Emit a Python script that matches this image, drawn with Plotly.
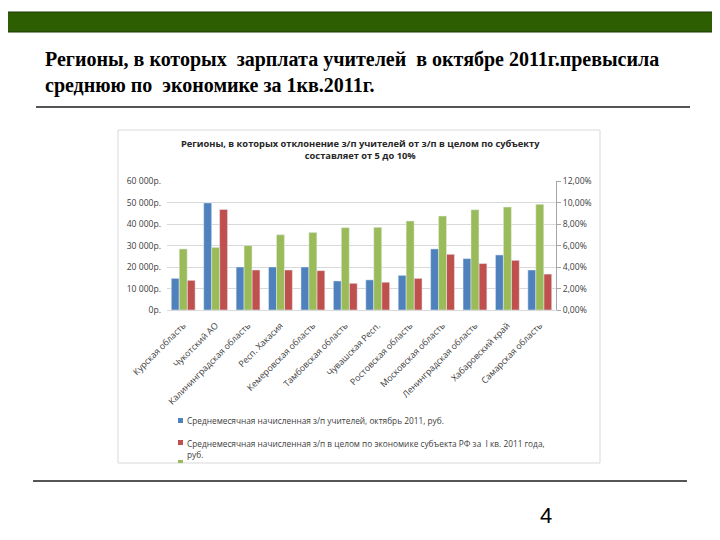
import plotly.graph_objects as go

regions = ["Курская область", "Чукотский АО", "Калининградская область", "Респ. Хакасия",
           "Кемеровская область", "Тамбовская область", "Чувашская Респ.", "Ростовская область",
           "Московская область", "Ленинградская область", "Хабаровский край", "Самарская область"]
teacher_salary = [14700, 49800, 20000, 20000, 20000, 13500, 14000, 16100, 28400, 23900, 25600, 18600]
economy_salary = [13800, 46800, 18600, 18600, 18300, 12400, 12900, 14700, 25900, 21600, 23100, 16700]
deviation = [0.0568, 0.0583, 0.0600, 0.0700, 0.0722, 0.0766, 0.0769, 0.0828, 0.0874, 0.0933, 0.0958, 0.0983]

name_teacher = "Среднемесячная начисленная з/п учителей, октябрь 2011, руб."
name_economy = "Среднемесячная начисленная з/п в целом по экономике субъекта РФ за  I кв. 2011 года, руб."
name_dev = "Отклонение з/п учителей от з/п в целом по субъекту, %"

left_ticks = [0, 10000, 20000, 30000, 40000, 50000, 60000]
left_ticktext = ["0р.", "10 000р.", "20 000р.", "30 000р.", "40 000р.", "50 000р.", "60 000р."]
right_ticks = [0, 0.02, 0.04, 0.06, 0.08, 0.10, 0.12]
right_ticktext = ["0,00%", "2,00%", "4,00%", "6,00%", "8,00%", "10,00%", "12,00%"]

BLUE, RED, GREEN = "#4F81BD", "#C0504D", "#9BBB59"
W, H = 720, 540
OFF = 8  # page body margin compensation

def px(x):
    return (x - OFF) / W

def py(y):
    return 1 - (y - OFF) / H

fig = go.Figure()
bw = 0.245
fig.add_trace(go.Bar(x=regions, y=teacher_salary, name=name_teacher, marker_color=BLUE,
                     width=bw, offset=-0.3675, yaxis="y"))
fig.add_trace(go.Bar(x=regions, y=deviation, name=name_dev, marker_color=GREEN,
                     width=bw, offset=-0.1225, yaxis="y2"))
fig.add_trace(go.Bar(x=regions, y=economy_salary, name=name_economy, marker_color=RED,
                     width=bw, offset=0.1225, yaxis="y"))

tick_font = dict(family="Open Sans", size=8.6, color="#404040")
cat_font = dict(family="Open Sans", size=8.8, color="#404040")
leg_font = dict(family="Open Sans", size=8.3, color="#404040")

shapes = [
    dict(type="rect", xref="paper", yref="paper", x0=px(0), x1=px(719), y0=py(32), y1=py(12),
         fillcolor="#2E5E02", line=dict(color="#1B3800", width=1), layer="below"),
    dict(type="line", xref="paper", yref="paper", x0=px(36), x1=px(690), y0=py(107), y1=py(107),
         line=dict(color="#555555", width=2)),
    dict(type="line", xref="paper", yref="paper", x0=px(33), x1=px(687), y0=py(481), y1=py(481),
         line=dict(color="#555555", width=2)),
    dict(type="rect", xref="paper", yref="paper", x0=px(118), x1=px(600), y0=py(463), y1=py(130),
         fillcolor="rgba(0,0,0,0)", line=dict(color="#D9D9D9", width=1), layer="below"),
    dict(type="rect", xref="paper", yref="paper", x0=px(178), x1=px(183), y0=py(423), y1=py(418),
         fillcolor=BLUE, line=dict(width=0)),
    dict(type="rect", xref="paper", yref="paper", x0=px(178), x1=px(183), y0=py(445), y1=py(440),
         fillcolor=RED, line=dict(width=0)),
    dict(type="rect", xref="paper", yref="paper", x0=px(178), x1=px(183), y0=py(463), y1=py(460),
         fillcolor=GREEN, line=dict(width=0)),
]

annotations = [
    dict(text="<b>Регионы, в которых  зарплата учителей  в октябре 2011г.превысила<br>среднюю по  экономике за 1кв.2011г.</b>",
         xref="paper", yref="paper", x=px(43), y=py(46), xanchor="left", yanchor="top",
         align="left", showarrow=False,
         font=dict(family="Liberation Serif", size=20, color="#000000")),
    dict(text="<b>Регионы, в которых отклонение з/п учителей от з/п в целом по субъекту<br>составляет от 5 до 10%</b>",
         xref="paper", yref="paper", x=px(360), y=py(135), xanchor="center", yanchor="top",
         align="center", showarrow=False,
         font=dict(family="Open Sans", size=9.3, color="#262626")),
    dict(text="4", xref="paper", yref="paper", x=px(546), y=py(515), xanchor="center", yanchor="middle",
         showarrow=False, font=dict(family="Liberation Sans", size=22, color="#000000")),
    dict(text=name_teacher, xref="paper", yref="paper", x=px(185), y=py(420.5), xanchor="left",
         yanchor="middle", showarrow=False, font=leg_font),
    dict(text="Среднемесячная начисленная з/п в целом по экономике субъекта РФ за  I кв. 2011 года,<br>руб.",
         xref="paper", yref="paper", x=px(185), y=py(436), xanchor="left", align="left",
         yanchor="top", showarrow=False, font=leg_font),
]

fig.update_layout(
    width=W, height=H, autosize=False,
    margin=dict(l=0, r=0, t=0, b=0, pad=0, autoexpand=False),
    paper_bgcolor="white", plot_bgcolor="white",
    showlegend=False, barmode="overlay",
    xaxis=dict(domain=[px(167), px(556)], type="category", tickangle=-45, automargin=False,
               tickfont=cat_font, showgrid=False, showline=True, linecolor="#D9D9D9",
               ticks="", range=[-0.5, 11.5], ticklabelstandoff=6),
    yaxis=dict(domain=[py(310), py(181)], range=[0, 60000], tickvals=left_ticks, automargin=False,
               ticktext=left_ticktext, tickfont=tick_font, showgrid=True, gridcolor="#D9D9D9",
               gridwidth=1, zeroline=False, showline=False, ticks="", ticklabelstandoff=5),
    yaxis2=dict(overlaying="y", side="right", range=[0, 0.12], tickvals=right_ticks, automargin=False,
                ticktext=right_ticktext, tickfont=tick_font, showgrid=False, zeroline=False,
                showline=True, linecolor="#A6A6A6", ticks="outside", ticklen=4,
                tickcolor="#A6A6A6", anchor="x"),
    shapes=shapes, annotations=annotations,
)

fig.write_html("out.html")
